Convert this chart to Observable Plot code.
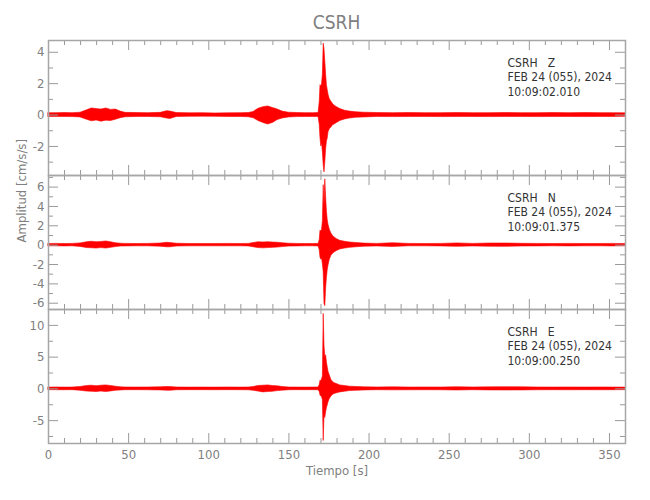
<!DOCTYPE html>
<html><head><meta charset="utf-8">
<script src="https://cdn.jsdelivr.net/npm/d3@7"></script>
<script src="https://cdn.jsdelivr.net/npm/@observablehq/plot@0.6"></script>
<style>
body{margin:0;background:#fff;}
#chart{position:relative;width:650px;height:500px;background:#fff;font-family:"Liberation Sans Narrow","DejaVu Sans Condensed",sans-serif;}
#chart svg{position:absolute;left:0;overflow:visible;}
#title{position:absolute;left:48px;width:577px;top:11px;text-align:center;font-size:19px;color:#808080;}
</style></head><body><div id="chart"><div id="title">CSRH</div></div>
<script>
// time (s) of envelope readings, shared by the three components
const time = [
  0,5,10,15,20,24,27,30,33,36,39,42,45,48,
  55,62,70,74,76,80,88,96,104,112,120,125,
  128,131,134,137,140,143,146,150,155,160,165,168.5,
  169.2,169.7,170.2,170.7,171.2,171.7,172.2,172.7,173.2,173.7,174.2,174.7,175.5,176.5,177.5,178.5,180,
  182,185,188,192,197,205,215,225,235,245,255,265,275,285,295,305,315,325,335,345,352,360
];
// Z component: upper / lower envelope (cm/s/s)
const zHi = [
  0.12,0.12,0.13,0.12,0.15,0.3,0.42,0.38,0.35,0.42,0.33,0.35,0.22,0.14,
  0.13,0.12,0.14,0.25,0.22,0.13,0.11,0.12,0.1,0.11,0.12,0.13,
  0.2,0.4,0.5,0.55,0.45,0.35,0.22,0.15,0.13,0.12,0.12,0.13,
  0.8,1.9,1.8,2.0,2.6,4.55,4.2,3.4,2.6,1.9,1.6,1.3,1.0,0.85,0.7,0.6,0.5,
  0.38,0.28,0.22,0.18,0.15,0.13,0.12,0.13,0.12,0.12,0.13,0.12,0.12,0.13,0.12,0.12,0.13,0.12,0.13,0.12,0.12,0.11
];
const zLo = [
  -0.12,-0.12,-0.12,-0.13,-0.15,-0.3,-0.4,-0.35,-0.42,-0.36,-0.38,-0.3,-0.2,-0.14,
  -0.12,-0.12,-0.14,-0.22,-0.25,-0.12,-0.11,-0.1,-0.11,-0.12,-0.12,-0.14,
  -0.2,-0.38,-0.5,-0.6,-0.5,-0.32,-0.22,-0.15,-0.13,-0.12,-0.12,-0.13,
  -0.6,-1.5,-2.0,-1.8,-2.4,-3.2,-3.65,-3.0,-2.2,-1.7,-1.5,-1.1,-0.9,-0.8,-0.65,-0.6,-0.5,
  -0.38,-0.28,-0.22,-0.17,-0.15,-0.12,-0.13,-0.12,-0.12,-0.13,-0.12,-0.12,-0.13,-0.12,-0.12,-0.13,-0.12,-0.12,-0.13,-0.12,-0.12,-0.11
];
// N component
const nHi = [
  0.12,0.13,0.12,0.13,0.18,0.3,0.35,0.3,0.33,0.38,0.3,0.2,0.15,0.13,
  0.12,0.13,0.17,0.24,0.22,0.15,0.12,0.12,0.12,0.13,0.12,0.13,
  0.22,0.3,0.28,0.3,0.27,0.25,0.2,0.15,0.13,0.12,0.12,0.13,
  0.5,1.5,1.4,1.6,2.5,6.2,4.0,6.8,5.0,3.5,2.6,2.1,1.6,1.2,0.95,0.8,0.62,
  0.45,0.35,0.28,0.22,0.16,0.13,0.2,0.13,0.12,0.13,0.18,0.13,0.17,0.17,0.14,0.13,0.12,0.13,0.12,0.12,0.13,0.12
];
const nLo = [
  -0.12,-0.12,-0.13,-0.12,-0.18,-0.3,-0.32,-0.35,-0.3,-0.35,-0.28,-0.2,-0.14,-0.13,
  -0.12,-0.12,-0.16,-0.22,-0.22,-0.14,-0.12,-0.12,-0.12,-0.12,-0.12,-0.13,
  -0.22,-0.3,-0.33,-0.3,-0.28,-0.25,-0.2,-0.15,-0.13,-0.12,-0.12,-0.13,
  -0.5,-1.3,-1.5,-1.4,-2.0,-2.8,-6.1,-6.3,-4.5,-3.4,-2.6,-2.1,-1.5,-1.1,-0.9,-0.75,-0.6,
  -0.45,-0.35,-0.28,-0.22,-0.16,-0.13,-0.18,-0.12,-0.12,-0.13,-0.17,-0.13,-0.16,-0.17,-0.14,-0.13,-0.12,-0.13,-0.12,-0.12,-0.13,-0.12
];
// E component
const eHi = [
  0.2,0.22,0.2,0.21,0.3,0.45,0.5,0.42,0.5,0.55,0.45,0.35,0.25,0.22,
  0.21,0.22,0.25,0.3,0.28,0.22,0.2,0.21,0.2,0.22,0.2,0.22,
  0.3,0.45,0.5,0.55,0.45,0.4,0.3,0.22,0.21,0.2,0.21,0.22,
  0.6,1.3,1.2,1.5,2.0,11.8,6.8,5.0,5.3,4.2,3.4,2.7,2.1,1.4,1.1,0.9,0.75,
  0.55,0.45,0.35,0.3,0.25,0.22,0.24,0.21,0.22,0.21,0.26,0.22,0.24,0.26,0.25,0.22,0.21,0.22,0.21,0.22,0.21,0.2
];
const eLo = [
  -0.2,-0.21,-0.22,-0.2,-0.3,-0.42,-0.45,-0.5,-0.42,-0.5,-0.4,-0.3,-0.25,-0.21,
  -0.2,-0.22,-0.24,-0.28,-0.3,-0.22,-0.2,-0.2,-0.21,-0.2,-0.21,-0.22,
  -0.3,-0.42,-0.55,-0.5,-0.45,-0.35,-0.28,-0.22,-0.2,-0.21,-0.2,-0.22,
  -0.5,-1.05,-1.2,-1.3,-1.8,-8.2,-4.2,-4.6,-3.7,-3.0,-2.6,-2.1,-1.6,-1.2,-0.95,-0.8,-0.7,
  -0.55,-0.45,-0.35,-0.3,-0.25,-0.21,-0.23,-0.22,-0.21,-0.22,-0.25,-0.21,-0.24,-0.25,-0.24,-0.22,-0.21,-0.22,-0.21,-0.22,-0.21,-0.2
];
// axis ticks
const xMajor = [0,50,100,150,200,250,300,350];
const xMinor = [10,20,30,40,60,70,80,90,110,120,130,140,160,170,180,190,210,220,230,240,260,270,280,290,310,320,330,340];
const zMajor = [-2,0,2,4], zMinor = [-3,-1,1,3];
const nMajor = [-6,-4,-2,0,2,4,6], nMinor = [-5,-3,-1,1,3,5,7];
const eMajor = [-5,0,5,10], eMinor = [-7.5,-2.5,2.5,7.5];
const zInfo = "CSRH\u00a0\u00a0\u00a0Z\nFEB 24 (055), 2024\n10:09:02.010";
const nInfo = "CSRH\u00a0\u00a0\u00a0N\nFEB 24 (055), 2024\n10:09:01.375";
const eInfo = "CSRH\u00a0\u00a0\u00a0E\nFEB 24 (055), 2024\n10:09:00.250";

const W = 650, ML = 48, MR = 25, FW = W - ML - MR;
const FONT = '"Liberation Sans Narrow","DejaVu Sans Condensed",sans-serif';
const GRID = "#9a9a9a";

function panel(hi, lo, domain, yMajor, yMinor, info, top, H, bottom) {
  const data = time.map((t, i) => ({t, hi: hi[i], lo: lo[i]}));
  const MB = bottom ? 50 : 0;
  const marks = [
    Plot.areaY(data, {x: "t", y1: "lo", y2: "hi", fill: "#ff0000", stroke: "#ff0000", strokeWidth: 0.6}),
    Plot.ruleX(xMinor, {x: d => d, insetBottom: H - 5, stroke: GRID}),
    Plot.ruleX(xMinor, {x: d => d, insetTop: H - 5, stroke: GRID}),
    Plot.ruleX(xMajor, {x: d => d, insetBottom: H - 10, stroke: GRID}),
    Plot.ruleX(xMajor, {x: d => d, insetTop: H - 10, stroke: GRID}),
    Plot.ruleY(yMajor, {y: d => d, insetRight: FW - 10, stroke: GRID}),
    Plot.ruleY(yMajor, {y: d => d, insetLeft: FW - 10, stroke: GRID}),
    Plot.ruleY(yMinor, {y: d => d, insetRight: FW - 5, stroke: GRID}),
    Plot.ruleY(yMinor, {y: d => d, insetLeft: FW - 5, stroke: GRID}),
    Plot.frame({stroke: "#a6a6a6", strokeWidth: 1.5}),
    Plot.axisY(yMajor, {anchor: "left", tickSize: 0, tickPadding: 4, tickFormat: d => String(d), label: null}),
    Plot.text([info], {frameAnchor: "top-left", dx: 459, dy: 16, textAnchor: "start", lineAnchor: "top",
      lineHeight: 1.2, fill: "#333", fontSize: 12})
  ];
  if (bottom) {
    marks.push(Plot.axisX(xMajor, {anchor: "bottom", tickSize: 0, tickPadding: 6, tickFormat: d => String(d), label: null}));
    marks.push(Plot.text(["Tiempo [s]"], {frameAnchor: "bottom", dy: 31, fill: "#808080", fontSize: 13}));
  }
  if (info === nInfo) {
    marks.push(Plot.text(["Amplitud [cm/s/s]"], {frameAnchor: "left", dx: -27, rotate: -90, fill: "#808080", fontSize: 13}));
  }
  const svg = Plot.plot({
    width: W, height: H + MB,
    marginLeft: ML, marginRight: MR, marginTop: 0, marginBottom: MB,
    x: {domain: [0, 360], axis: null},
    y: {domain, axis: null},
    style: {fontFamily: FONT, fontSize: "13px", color: "#808080", background: "transparent", overflow: "visible"},
    marks
  });
  svg.style.top = top + "px";
  document.getElementById("chart").appendChild(svg);
}

panel(zHi, zLo, [-3.85, 4.75], zMajor, zMinor, zInfo, 40, 135, false);
panel(nHi, nLo, [-6.65, 7.2], nMajor, nMinor, nInfo, 175, 134, false);
panel(eHi, eLo, [-8.6, 12.5], eMajor, eMinor, eInfo, 309, 134, true);
</script>
</body></html>
